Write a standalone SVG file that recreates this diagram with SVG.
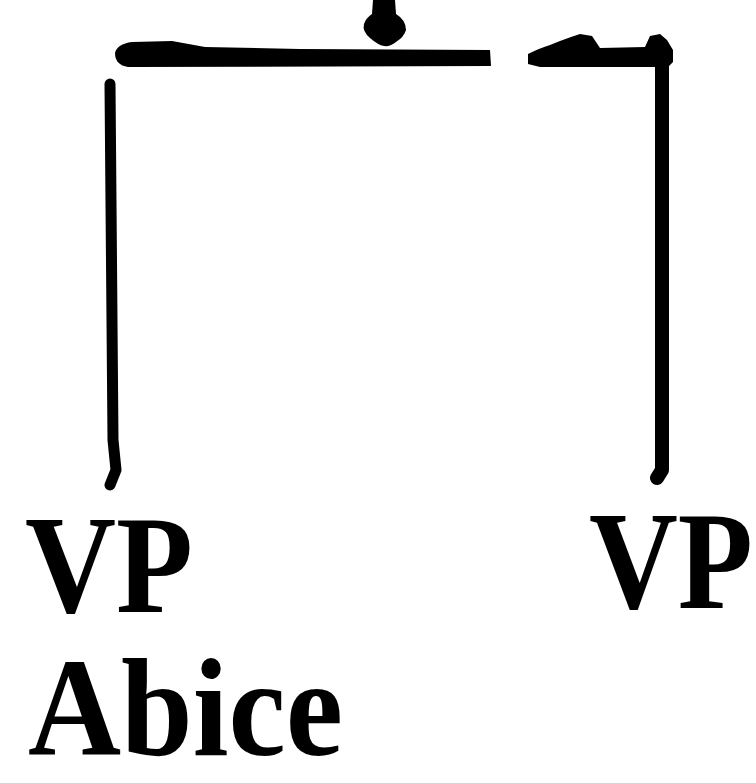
<svg xmlns="http://www.w3.org/2000/svg" width="756" height="783" viewBox="0 0 756 783">
<style>
.lbl{font-family:"Liberation Serif","DejaVu Serif",serif;font-weight:bold;font-size:140px;fill:#000}
.ln{fill:none;stroke:#000;stroke-linecap:round;stroke-linejoin:round}
.ink{fill:#000;stroke:none}
</style>
<rect width="756" height="783" fill="#fff"/>
<g id="connectors">
<path class="ink" d="M373,0 L395,0 L396,14 Q406,20 406,30 Q404,37 396,42 Q390,47 384,46 Q378,45 370,38 Q362,31 364,24 Q366,18 372,14 Z"/>
<path class="ink" d="M115,53 Q117,44 132,42 L172,41 L205,47 L300,49 L490,50 L491,66 L128,67 Q115,65 115,53 Z"/>
<path class="ink" d="M528,54 Q540,48 550,45 L560,41 L571,37 L580,34 L592,36 L598,45 L600,48 L645,47 L650,36 L660,34 L667,40 L673,50 L673,62 L668,67 L540,67 L528,64 Z"/>
<path class="ln" stroke-width="11" d="M110,84 L113,440 L116,470 L110,485"/>
<path class="ln" stroke-width="14" d="M662,62 L662,470 L657,478"/>
</g>
<g id="node-vp-left"><text class="lbl" x="25" y="612" textLength="168" lengthAdjust="spacingAndGlyphs">VP</text></g>
<g id="node-vp-right"><text class="lbl" x="589" y="608" textLength="164" lengthAdjust="spacingAndGlyphs">VP</text></g>
<g id="node-abice"><text class="lbl" x="28" y="755" textLength="315" lengthAdjust="spacingAndGlyphs">Abice</text></g>
</svg>
